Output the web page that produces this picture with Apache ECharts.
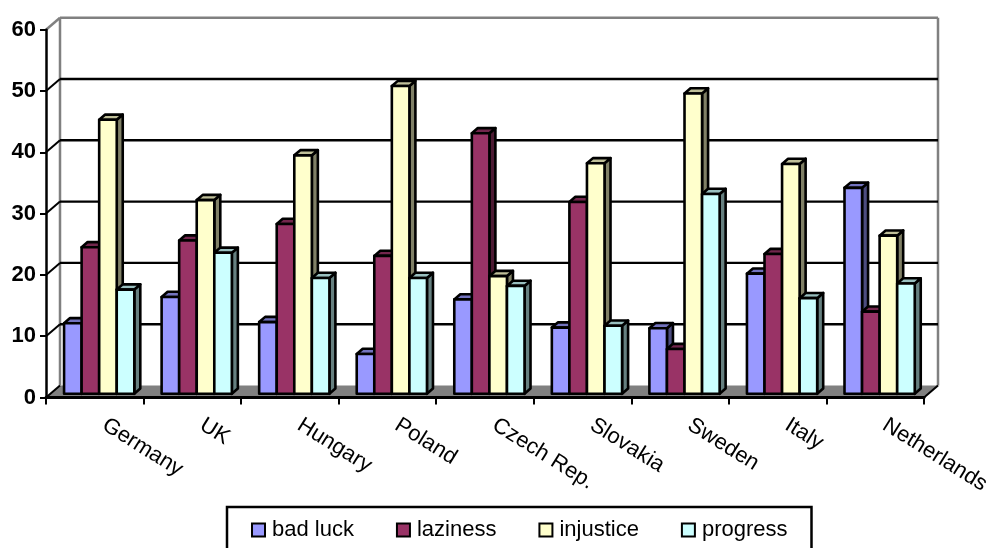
<!DOCTYPE html>
<html>
<head>
<meta charset="utf-8">
<style>html,body{margin:0;padding:0;background:#fff}#chart{width:990px;height:548px}</style>
<script src="https://cdn.jsdelivr.net/npm/echarts@6/dist/echarts.min.js"></script>
</head>
<body>
<div id="chart"></div>
<script>
// Attitudes by country, drawn as a clustered column chart with a 3D look.
var categories = ['Germany', 'UK', 'Hungary', 'Poland', 'Czech Rep.', 'Slovakia', 'Sweden', 'Italy', 'Netherlands'];
var badLuck   = [11.5, 15.8, 11.7, 6.5, 15.4, 10.8, 10.7, 19.6, 33.6];
var laziness  = [23.9, 25.0, 27.7, 22.5, 42.5, 31.3, 7.3, 22.8, 13.4];
var injustice = [44.7, 31.6, 38.9, 50.2, 19.2, 37.6, 49.0, 37.5, 25.8];
var progress  = [17.0, 23.0, 18.9, 18.9, 17.6, 11.1, 32.6, 15.6, 18.0];
var yTicks = [0, 10, 20, 30, 40, 50, 60];

var FONT = '"Liberation Sans", Arial, sans-serif';
// Oblique projection: how far the back wall sits from the axis plane.
var WALL_DX = 14, WALL_DY = -12;
// Where the column front stands inside that depth, and the column's own depth.
var FRONT_DX = 4.4, FRONT_DY = -3.7;
var DEPTH_DX = 6, DEPTH_DY = -5.2;
var BAR_SHARE = 0.18;

var palette = [
  { name: 'bad luck',  values: badLuck,   front: '#9999FF', side: '#4D4D80', top: '#7373BF' },
  { name: 'laziness',  values: laziness,  front: '#993366', side: '#4D1A33', top: '#73264D' },
  { name: 'injustice', values: injustice, front: '#FFFFCC', side: '#808066', top: '#BFBF99' },
  { name: 'progress',  values: progress,  front: '#CCFFFF', side: '#668080', top: '#99BFBF' }
];

function poly(points, fill) {
  return {
    type: 'polygon',
    shape: { points: points },
    style: { fill: fill, stroke: '#000', lineWidth: 2.6, lineJoin: 'round' }
  };
}

function segment(x1, y1, x2, y2, color, width) {
  return {
    type: 'line',
    shape: { x1: x1, y1: y1, x2: x2, y2: y2 },
    style: { stroke: color, lineWidth: width, fill: null }
  };
}

// Walls, floor, gridlines and the diagonal joins from the axis to the back wall.
function renderFrame(params, api) {
  var value = api.value(1);
  var rect = params.coordSys;
  var y = api.coord([0, value])[1];
  var left = rect.x, right = rect.x + rect.width;
  var children = [];
  if (value === 0) {
    var topY = rect.y + WALL_DY;
    children.push({
      type: 'polygon',
      shape: { points: [[left, y], [left + WALL_DX, y + WALL_DY], [right + WALL_DX, y + WALL_DY], [right, y]] },
      style: { fill: '#808080', stroke: null }
    });
    children.push(segment(left + WALL_DX, topY, left + WALL_DX, y + WALL_DY, '#808080', 2.5));
    children.push(segment(right + WALL_DX, topY, right + WALL_DX, y + WALL_DY, '#808080', 2.5));
    children.push(segment(left + WALL_DX, topY, right + WALL_DX, topY, '#808080', 2.5));
    children.push(segment(left, y, left + WALL_DX, y + WALL_DY, '#000', 2));
    children.push(segment(right, y, right + WALL_DX, y + WALL_DY, '#000', 2));
  } else if (value === 60) {
    children.push(segment(left, y, left + WALL_DX, y + WALL_DY, '#808080', 2.5));
  } else {
    children.push(segment(left, y, left + WALL_DX, y + WALL_DY, '#000', 2));
    children.push(segment(left + WALL_DX, y + WALL_DY, right + WALL_DX, y + WALL_DY, '#000', 2.4));
  }
  return { type: 'group', children: children };
}

function columnRenderer(seriesPos, colors) {
  return function (params, api) {
    var cat = api.value(0);
    var band = api.size([1, 0])[0];
    var w = band * BAR_SHARE;
    var base = api.coord([cat, 0]);
    var tip = api.coord([cat, api.value(1)]);
    var x0 = base[0] + (seriesPos - 2) * w + FRONT_DX;
    var x1 = x0 + w;
    var yB = base[1] + FRONT_DY;
    var yT = tip[1] + FRONT_DY;
    var side = [[x1, yT], [x1 + DEPTH_DX, yT + DEPTH_DY], [x1 + DEPTH_DX, yB + DEPTH_DY], [x1, yB]];
    var top = [[x0, yT], [x0 + DEPTH_DX, yT + DEPTH_DY], [x1 + DEPTH_DX, yT + DEPTH_DY], [x1, yT]];
    var front = [[x0, yT], [x1, yT], [x1, yB], [x0, yB]];
    return {
      type: 'group',
      children: [poly(side, colors.side), poly(top, colors.top), poly(front, colors.front)]
    };
  };
}

var series = [{
  name: 'frame',
  type: 'custom',
  coordinateSystem: 'cartesian2d',
  silent: true,
  z: 1,
  renderItem: renderFrame,
  data: yTicks.map(function (t) { return [0, t]; })
}];

palette.forEach(function (p, i) {
  series.push({
    name: p.name,
    type: 'custom',
    coordinateSystem: 'cartesian2d',
    z: 3,
    renderItem: columnRenderer(i, p),
    itemStyle: { color: p.front, borderColor: '#000', borderWidth: 2.5 },
    encode: { x: 0, y: 1 },
    data: p.values.map(function (v, c) { return [c, v]; })
  });
});

var chart = echarts.init(document.getElementById('chart'), null, { renderer: 'canvas' });
chart.setOption({
  animation: false,
  backgroundColor: '#fff',
  grid: { left: 46, top: 29.7, width: 878, height: 367.8, containLabel: false, outerBoundsMode: 'none' },
  xAxis: {
    type: 'category',
    data: categories,
    z: 2,
    boundaryGap: true,
    axisLine: { show: true, lineStyle: { color: '#000', width: 3 } },
    axisTick: { show: true, alignWithLabel: false, length: 7, lineStyle: { color: '#000', width: 2 } },
    axisLabel: { interval: 0, rotate: -32, margin: 20, padding: [0, 0, 0, 11], color: '#000', fontFamily: FONT, fontSize: 22 },
    splitLine: { show: false }
  },
  yAxis: {
    type: 'value',
    min: 0,
    max: 60,
    interval: 10,
    z: 2,
    axisLine: { show: true, lineStyle: { color: '#000', width: 2.5 } },
    axisTick: { show: true, length: 6, lineStyle: { color: '#000', width: 2 } },
    axisLabel: { margin: 10, color: '#000', fontFamily: FONT, fontSize: 22, fontWeight: 'bold' },
    splitLine: { show: false }
  },
  legend: {
    data: palette.map(function (p) { return p.name; }),
    left: 227,
    top: 507,
    orient: 'horizontal',
    backgroundColor: '#fff',
    borderColor: '#000',
    borderWidth: 2.5,
    borderRadius: 0,
    padding: [12, 24, 20, 24],
    itemWidth: 13,
    itemHeight: 13,
    itemGap: 42,
    icon: 'rect',
    selectedMode: false,
    textStyle: { color: '#000', fontFamily: FONT, fontSize: 22, padding: [0, 0, 0, 2] }
  },
  series: series
});
</script>
</body>
</html>
